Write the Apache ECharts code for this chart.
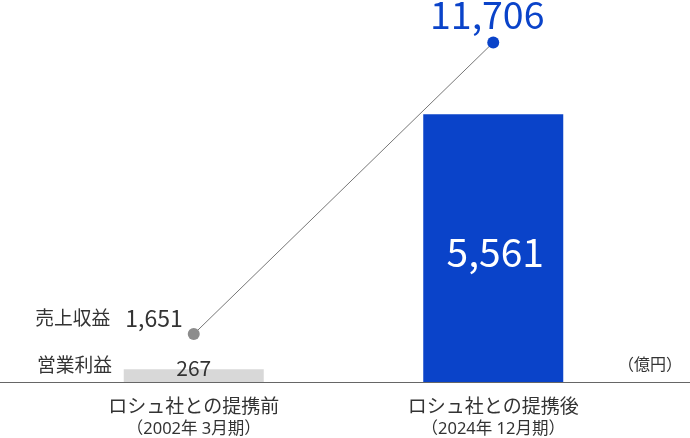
<!DOCTYPE html>
<html>
<head>
<meta charset="utf-8">
<script src="https://cdn.jsdelivr.net/npm/echarts@6/dist/echarts.min.js"></script>
<style>
html,body{margin:0;padding:0;background:#fff;}
#c{width:690px;height:438px;}
</style>
</head>
<body>
<div id="c"></div>
<script>
const categories = ['ロシュ社との提携前', 'ロシュ社との提携後'];
const periods = ['（2002年 3月期）', '（2024年 12月期）'];
const operatingProfit = [267, 5561];
const revenue = [1651, 11706];
const seriesNames = ['営業利益', '売上収益'];
const unitLabel = '（億円）';

const FONT = '"Noto Sans CJK JP", "Noto Sans", sans-serif';
const SUBFONT = '"Noto Sans", "Noto Sans CJK JP", sans-serif';
const BLUE = '#0a43c9';
const GRAY_BAR = '#d8d8d8';
const GRAY_PT = '#8c8c8c';
const TEXT = '#333333';

const fmt = v => v.toLocaleString('en-US');

const chart = echarts.init(document.getElementById('c'));
chart.setOption({
  animation: false,
  textStyle: { fontFamily: FONT },
  grid: [
    { left: 44, width: 599, top: 42.5, bottom: 56 },
    { left: 0, right: 0, top: 42.5, bottom: 56 }
  ],
  xAxis: [
    {
      type: 'category', gridIndex: 0, data: categories,
      axisLine: { show: false }, axisTick: { show: false },
      axisLabel: {
        margin: 12,
        formatter: (v, i) => '{a|' + v + '}\n{b|' + periods[i] + '}',
        rich: {
          a: { fontFamily: FONT, fontSize: 19, color: TEXT, lineHeight: 24 },
          b: { fontFamily: SUBFONT, fontSize: 16.5, color: TEXT, lineHeight: 22 }
        }
      }
    },
    {
      type: 'category', gridIndex: 1, data: [''],
      axisLine: { show: true, lineStyle: { color: '#666', width: 1 } },
      axisTick: { show: false }, axisLabel: { show: false }
    }
  ],
  yAxis: [
    { type: 'value', gridIndex: 0, min: 0, max: 7052, show: false },
    { type: 'value', gridIndex: 0, min: 0, max: 11706, show: false },
    { type: 'value', gridIndex: 1, min: 0, max: 1, show: false }
  ],
  graphic: [
    {
      type: 'text', left: 37, top: 356,
      style: { text: seriesNames[0], font: '18.75px ' + FONT, fill: TEXT }
    },
    {
      type: 'text', right: 8, top: 356,
      style: { text: unitLabel, font: '16px ' + FONT, fill: TEXT }
    }
  ],
  series: [
    {
      name: seriesNames[0], type: 'bar', xAxisIndex: 0, yAxisIndex: 0,
      barWidth: 140,
      data: [
        {
          value: operatingProfit[0], itemStyle: { color: GRAY_BAR },
          label: { show: true, position: 'insideBottom', distance: 3, color: TEXT, fontSize: 21, fontFamily: FONT, formatter: p => fmt(p.value) }
        },
        {
          value: operatingProfit[1], itemStyle: { color: BLUE },
          label: { show: true, position: 'inside', offset: [2, 4], color: '#fff', fontSize: 39, fontFamily: FONT, formatter: p => fmt(p.value) }
        }
      ]
    },
    {
      name: seriesNames[1], type: 'line', xAxisIndex: 0, yAxisIndex: 1,
      symbol: 'circle', symbolSize: 12,
      lineStyle: { color: '#777', width: 1 },
      z: 5,
      data: [
        {
          value: revenue[0], itemStyle: { color: GRAY_PT },
          label: {
            show: true, position: 'left', distance: 5, offset: [0, -16],
            formatter: p => '{n|' + seriesNames[1] + '}{v|' + fmt(p.value) + '}',
            rich: {
              n: { fontFamily: FONT, fontSize: 18.75, color: TEXT, padding: [0, 15, 0, 0] },
              v: { fontFamily: FONT, fontSize: 23, color: TEXT }
            }
          }
        },
        {
          value: revenue[1], itemStyle: { color: BLUE },
          label: {
            show: true, position: 'top', distance: 3, offset: [-6, 0],
            color: BLUE, fontSize: 37.5, fontFamily: FONT, formatter: p => fmt(p.value)
          }
        }
      ]
    }
  ]
});
</script>
</body>
</html>
